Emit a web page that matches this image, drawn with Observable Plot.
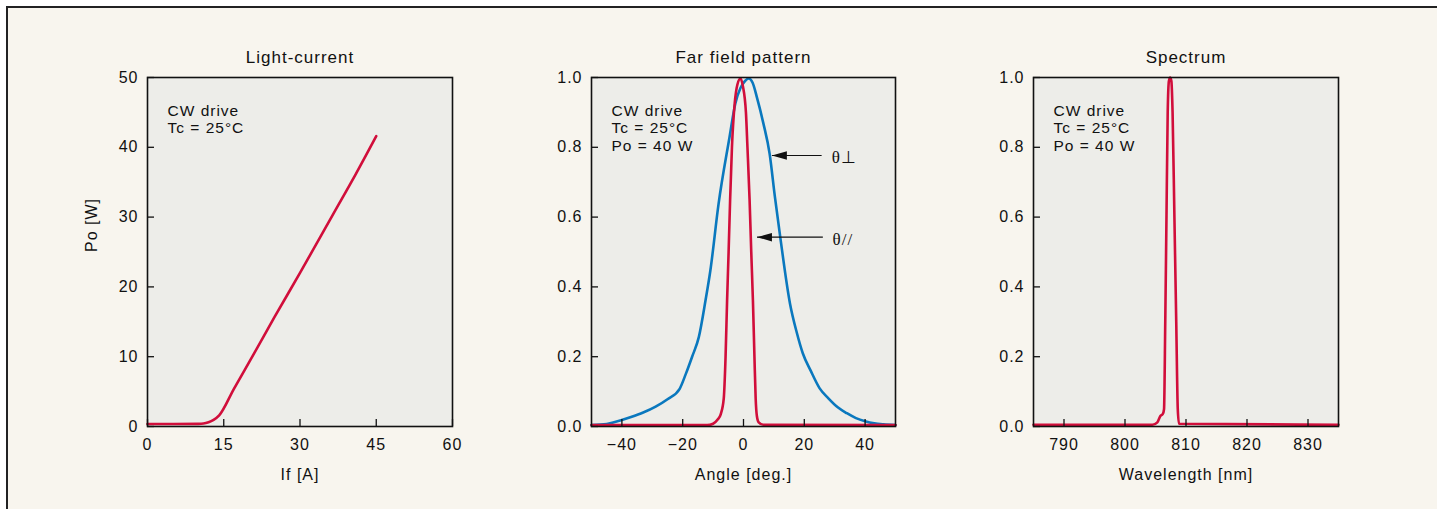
<!DOCTYPE html>
<html>
<head>
<meta charset="utf-8">
<script src="https://cdn.jsdelivr.net/npm/d3@7"></script>
<script src="https://cdn.jsdelivr.net/npm/@observablehq/plot@0.6"></script>
<style>
  html, body { margin: 0; padding: 0; background: #ffffff; width: 1437px; height: 509px; overflow: hidden; }
  #bg { position: absolute; left: 6px; top: 6px; width: 1440px; height: 520px; background: #F8F5EE; border-left: 2px solid #222; border-top: 2px solid #222; }
  .panel { position: absolute; top: 0; }
  .panel svg { background: transparent !important; }
  .panel svg text { letter-spacing: 1px; }
</style>
</head>
<body>
<div id="bg"></div>
<div id="p1" class="panel" style="left:0px"></div>
<div id="p2" class="panel" style="left:520px"></div>
<div id="p3" class="panel" style="left:960px"></div>
<script>
// ---------- DATA ----------
// Light-current
const liCurrent = [0, 5, 10, 11, 12, 13, 14.1, 17, 21, 25, 30, 36.5, 41, 45];
const liPower   = [0.35, 0.35, 0.38, 0.42, 0.6, 0.95, 1.6, 5.4, 10.5, 15.7, 22.0, 30.4, 36.2, 41.6];
const liXTicks = [0, 15, 30, 45, 60];
const liYTicks = [0, 10, 20, 30, 40, 50];

// Far field pattern: theta perpendicular (blue)
const ffPerpAngle = [-50, -45, -42.6, -37, -33, -28.9, -25, -21, -19, -16.9, -14.7, -12.5, -10.9, -8.2, -4.6, -2.7, -1, 0.5, 1.7, 3, 4.5, 6.5, 8.6, 10.3, 12.1, 15.3, 17.5, 19.5, 22.1, 25, 28, 31, 34, 37, 40, 43, 46, 50];
const ffPerpValue = [0.004, 0.007, 0.012, 0.027, 0.04, 0.057, 0.078, 0.108, 0.15, 0.2, 0.256, 0.361, 0.447, 0.638, 0.829, 0.925, 0.97, 0.99, 0.997, 0.985, 0.94, 0.87, 0.781, 0.66, 0.542, 0.352, 0.27, 0.21, 0.16, 0.11, 0.08, 0.055, 0.038, 0.024, 0.015, 0.009, 0.006, 0.004];
// Far field pattern: theta parallel (red)
const ffParAngle = [-50, -12, -10, -8.5, -7.5, -6.5, -5.9, -5.4, -4.9, -4.4, -3.8, -2.9, -2, -1, -0.2, 0.8, 1.3, 2.0, 2.55, 3.1, 3.6, 4.0, 4.4, 5, 6.5, 50];
const ffParValue = [0.004, 0.004, 0.008, 0.02, 0.035, 0.08, 0.2, 0.36, 0.5, 0.65, 0.8, 0.925, 0.98, 0.997, 0.975, 0.9, 0.8, 0.65, 0.5, 0.361, 0.2, 0.08, 0.03, 0.012, 0.005, 0.004];
const ffXTicks = [-40, -20, 0, 20, 40];
const unitYTicks = [0, 0.2, 0.4, 0.6, 0.8, 1.0];

// Far field arrow annotations
const arrowLabels = ["θ⊥", "θ//"];
const arrowTipX   = [9.34, 4.43];
const arrowTailX  = [25.7, 26.1];
const arrowY      = [0.7765, 0.5424];
const arrowLabelX = [29.0, 29.3];

// Spectrum
const specWavelength = [785, 804.5, 805.3, 805.8, 806.2, 806.4, 806.6, 806.8, 807.0, 807.2, 807.4, 807.6, 807.8, 808.1, 808.4, 808.65, 808.85, 835];
const specValue      = [0.005, 0.005, 0.012, 0.03, 0.036, 0.05, 0.3, 0.6, 0.9, 0.99, 1.0, 0.99, 0.9, 0.6, 0.3, 0.05, 0.008, 0.005];
const specXTicks = [790, 800, 810, 820, 830];

// Texts
const titles = ["Light-current", "Far field pattern", "Spectrum"];
const xLabels = ["If [A]", "Angle [deg.]", "Wavelength [nm]"];
const yLabel = "Po [W]";
const noteLI = "CW drive\nTc = 25°C";
const noteFF = "CW drive\nTc = 25°C\nPo = 40 W";

// ---------- STYLE ----------
const RED = "#D10E3B";
const BLUE = "#0A78BE";
const INK = "#111";
const FONT = "'Liberation Sans', Arial, Helvetica, sans-serif";
const H = 509, MT = 77, MB = 83;
const plotH = H - MT - MB;

function panel({width, ml, mr, xDomain, yDomain, xTicks, yTicks, xFmt, yFmt, title, xLabel, note, lines, extra = [], yLab = null}) {
  const plotW = width - ml - mr;
  const marks = [
    Plot.frame({fill: "#EDEDE9", stroke: null}),
    ...lines,
    ...extra,
    Plot.tickX(xTicks, {x: d => d, stroke: INK, strokeWidth: 1.3, insetTop: plotH - 7}),
    Plot.tickY(yTicks, {y: d => d, stroke: INK, strokeWidth: 1.3, insetRight: plotW - 7}),
    Plot.frame({stroke: INK, strokeWidth: 1.6}),
    Plot.axisX(xTicks, {tickSize: 0, tickPadding: 12, tickFormat: xFmt, fontSize: 16, label: null, fill: INK}),
    Plot.axisY(yTicks, {tickSize: 0, tickPadding: 9, tickFormat: yFmt, fontSize: 16, label: null, fill: INK}),
    Plot.text([title], {text: d => d, frameAnchor: "top", dy: -20, fontSize: 17, fill: INK, lineAnchor: "middle"}),
    Plot.text([xLabel], {text: d => d, frameAnchor: "bottom", dy: 48, fontSize: 16, fill: INK, lineAnchor: "middle"}),
    Plot.text([note], {text: d => d, frameAnchor: "top-left", dx: 20, dy: 26, textAnchor: "start", lineAnchor: "top", fontSize: 15.5, lineHeight: 1.12, fill: INK})
  ];
  if (yLab) marks.push(Plot.text([yLab], {text: d => d, frameAnchor: "left", dx: -56, rotate: -90, fontSize: 16, fill: INK}));
  return Plot.plot({
    width, height: H,
    marginLeft: ml, marginRight: mr, marginTop: MT, marginBottom: MB,
    style: {fontFamily: FONT, background: "transparent", overflow: "visible"},
    x: {domain: xDomain, label: null},
    y: {domain: yDomain, label: null},
    marks
  });
}

// Light-current panel
document.getElementById("p1").append(panel({
  width: 520, ml: 147, mr: 68,
  xDomain: [0, 60], yDomain: [0, 50],
  xTicks: liXTicks, yTicks: liYTicks,
  xFmt: d3.format("d"), yFmt: d3.format("d"),
  title: titles[0], xLabel: xLabels[0], note: noteLI, yLab: yLabel,
  lines: [
    Plot.line(liCurrent.map((x, i) => ({x, y: liPower[i]})), {x: "x", y: "y", stroke: RED, strokeWidth: 2.6, curve: "monotone-x"})
  ]
}));

// Far field panel
const leftArrow = {draw(ctx) { ctx.moveTo(0, 0); ctx.lineTo(15, -4.2); ctx.lineTo(15, 4.2); ctx.closePath(); }};
const arrows = arrowLabels.map((label, i) => ({label, tip: arrowTipX[i], tail: arrowTailX[i], y: arrowY[i], lx: arrowLabelX[i]}));
document.getElementById("p2").append(panel({
  width: 440, ml: 71, mr: 65,
  xDomain: [-50, 50], yDomain: [0, 1],
  xTicks: ffXTicks, yTicks: unitYTicks,
  xFmt: d3.format("d"), yFmt: d3.format(".1f"),
  title: titles[1], xLabel: xLabels[1], note: noteFF,
  lines: [
    Plot.line(ffPerpAngle.map((x, i) => ({x, y: ffPerpValue[i]})), {x: "x", y: "y", stroke: BLUE, strokeWidth: 2.6, curve: "monotone-x"}),
    Plot.line(ffParAngle.map((x, i) => ({x, y: ffParValue[i]})), {x: "x", y: "y", stroke: RED, strokeWidth: 2.6, curve: "monotone-x"})
  ],
  extra: [
    Plot.link(arrows, {x1: "tail", x2: "tip", y1: "y", y2: "y", stroke: INK, strokeWidth: 1.2}),
    Plot.dot(arrows, {x: "tip", y: "y", symbol: leftArrow, r: 5, fill: INK, stroke: null}),
    Plot.text(arrows, {x: "lx", y: "y", text: "label", textAnchor: "start", fontSize: 17, fontFamily: "'Liberation Serif', 'Times New Roman', serif", fill: INK, dy: 2})
  ]
}));

// Spectrum panel
document.getElementById("p3").append(panel({
  width: 477, ml: 73, mr: 99,
  xDomain: [785, 835], yDomain: [0, 1],
  xTicks: specXTicks, yTicks: unitYTicks,
  xFmt: d3.format("d"), yFmt: d3.format(".1f"),
  title: titles[2], xLabel: xLabels[2], note: noteFF,
  lines: [
    Plot.line(specWavelength.map((x, i) => ({x, y: specValue[i]})), {x: "x", y: "y", stroke: RED, strokeWidth: 2.6, curve: "monotone-x"})
  ]
}));
</script>
</body>
</html>
